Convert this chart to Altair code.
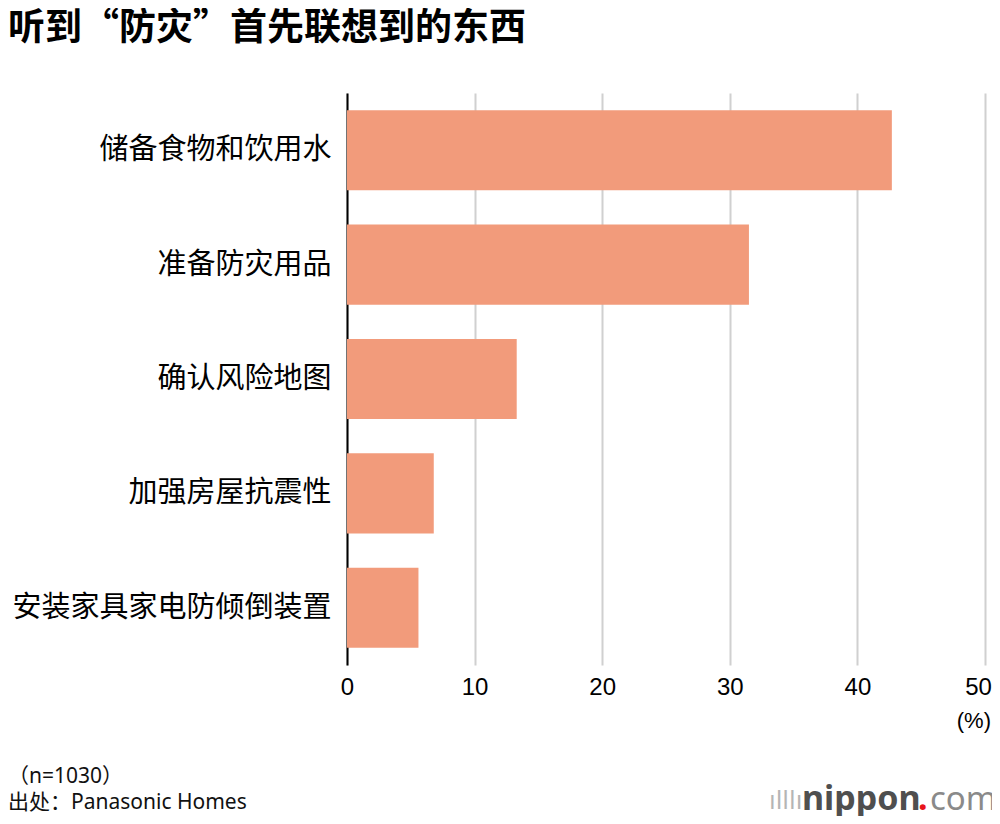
import altair as alt
import pandas as pd

categories = ["储备食物和饮用水", "准备防灾用品", "确认风险地图", "加强房屋抗震性", "安装家具家电防倾倒装置"]
values = [42.7, 31.5, 13.3, 6.8, 5.6]
x_ticks = [0, 10, 20, 30, 40, 50]

title_text = "听到“防灾”首先联想到的东西"
note_lines = ["（n=1030）", "出处：Panasonic Homes"]
unit_text = "(%)"

FONT = "Noto Sans CJK SC"
NOTE_FONT = "Noto Sans, Noto Sans CJK SC"
df = pd.DataFrame({"item": categories, "pct": values})

W, H = 638, 572

bars = alt.Chart(df).mark_bar(color="#F29B7B").encode(
    x=alt.X("pct:Q", scale=alt.Scale(domain=[0, 50], nice=False),
            axis=alt.Axis(values=x_ticks, title=None, grid=True, gridColor="#d0d0d0",
                          gridWidth=2, domain=False, ticks=False, labelFontSize=24,
                          labelFont="Liberation Sans", labelColor="#000", labelPadding=10,
                          labelFlush=False,
                          labelOffset=alt.condition("datum.value == 50", alt.value(-7), alt.value(0)))),
    y=alt.Y("item:N", sort=categories,
            scale=alt.Scale(paddingInner=0.3, paddingOuter=0.15),
            axis=alt.Axis(title=None, ticks=False, domain=True, domainColor="#000",
                          domainWidth=2, labelFontSize=29, labelFont=FONT,
                          labelColor="#000", labelPadding=16, labelLimit=400)),
)

def txt(text, x, y, size, weight="normal", color="#000", align="left", font=FONT):
    return alt.Chart(pd.DataFrame({"t": [text]})).mark_text(
        align=align, baseline="middle", fontSize=size, fontWeight=weight,
        color=color, font=font
    ).encode(text="t:N", x=alt.value(x), y=alt.value(y))

title = txt(title_text, -339, -64, 37, weight="bold")
note1 = txt(note_lines[0], -339, 684, 21, color="#111", font=NOTE_FONT)
note2 = txt(note_lines[1], -339, 710, 21, color="#111", font=NOTE_FONT)
unit = txt(unit_text, 644, 628, 22, align="right", font="Liberation Sans")
logo_bars = txt("ılllı", 422, 709, 24, color="#b5b5b5", font="DejaVu Sans")
logo1 = txt("nippon", 455, 707, 34, weight="bold", color="#4f4f4f", font="Noto Sans")
logo2 = txt(".", 571, 707, 34, weight="bold", color="#e8141b", font="Noto Sans")
logo3 = txt("com", 583, 707, 33, color="#8a8a8a", font="Noto Sans")

chart = alt.layer(bars, title, note1, note2, unit, logo_bars, logo1, logo2, logo3).properties(
    width=W, height=H,
    autosize=alt.AutoSizeParams(type="none"),
    padding={"left": 339, "top": 85, "right": 7, "bottom": 151},
).configure(background="white").configure_view(stroke=None)

chart.save("out.html", embed_options={"renderer": "svg", "actions": False})
